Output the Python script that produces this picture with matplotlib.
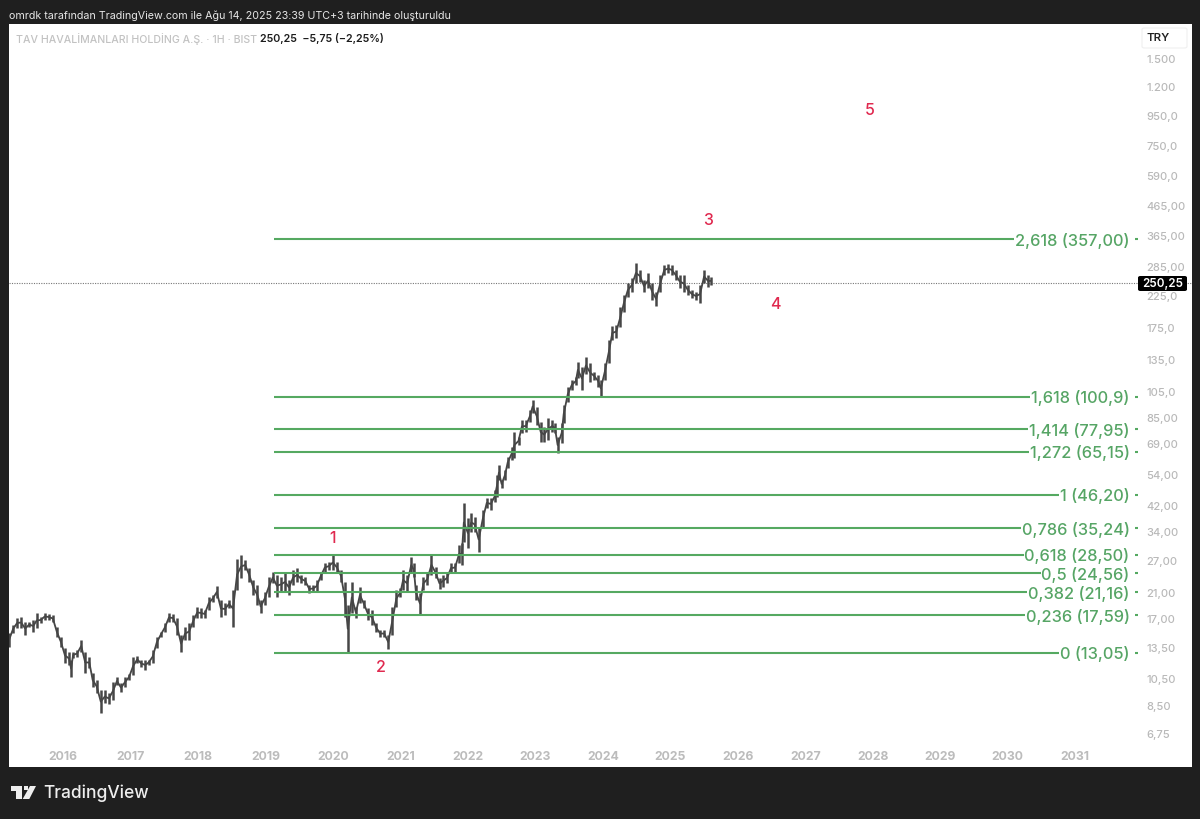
import matplotlib
matplotlib.use("Agg")
import matplotlib.pyplot as plt
from matplotlib.patches import Polygon, FancyBboxPatch
from matplotlib.ticker import NullLocator
from matplotlib.transforms import blended_transform_factory, ScaledTranslation

# ---------- data ----------
bar_years = [2015.20,2015.26,2015.32,2015.38,2015.44,2015.50,2015.56,2015.61,2015.67,2015.73,2015.79,2015.85,2015.91,2015.97,
 2016.03,2016.09,2016.12,2016.15,2016.21,2016.27,2016.33,2016.39,2016.44,2016.50,2016.56,2016.62,2016.68,2016.74,2016.80,2016.86,2016.92,2016.98,
 2017.04,2017.10,2017.16,2017.22,2017.27,2017.33,2017.39,2017.45,2017.51,2017.57,2017.63,2017.69,2017.75,2017.81,2017.87,2017.93,2017.99,
 2018.05,2018.10,2018.16,2018.22,2018.28,2018.34,2018.40,2018.46,2018.52,2018.58,2018.64,2018.70,2018.76,2018.82,2018.88,2018.93,2018.99,
 2019.05,2019.11,2019.17,2019.23,2019.29,2019.35,2019.41,2019.47,2019.53,2019.59,2019.65,2019.71,2019.76,2019.82,2019.88,2019.94,
 2020.00,2020.06,2020.12,2020.18,2020.22,2020.28,2020.34,2020.40,2020.46,2020.52,2020.58,2020.64,2020.70,2020.76,2020.82,2020.88,2020.94,
 2021.00,2021.04,2021.10,2021.16,2021.20,2021.23,2021.29,2021.34,2021.40,2021.46,2021.52,2021.58,2021.63,2021.69,2021.75,2021.81,2021.87,2021.91,2021.94,
 2022.00,2022.05,2022.10,2022.16,2022.22,2022.28,2022.34,2022.40,2022.43,2022.46,2022.50,2022.55,2022.59,2022.65,2022.69,2022.75,2022.80,2022.86,2022.92,2022.96,
 2023.02,2023.08,2023.13,2023.19,2023.25,2023.29,2023.33,2023.39,2023.42,2023.48,2023.54,2023.60,2023.63,2023.69,2023.75,2023.81,2023.87,2023.93,2023.97,
 2024.03,2024.09,2024.14,2024.20,2024.26,2024.31,2024.37,2024.43,2024.49,2024.55,2024.61,2024.67,2024.73,2024.79,2024.85,2024.91,2024.97,
 2025.02,2025.08,2025.14,2025.20,2025.26,2025.32,2025.38,2025.44,2025.50,2025.56,2025.60]

bar_lows = [13.64,15.25,15.88,15.88,15.0,16.0,15.37,15.88,16.53,16.93,16.93,16.66,14.77,13.64,
 12.0,11.81,10.72,12.5,12.6,13.1,11.08,11.53,9.9,9.44,8.04,8.71,8.65,8.92,10.06,9.5,9.9,10.47,
 10.9,12.0,11.63,11.35,11.81,12.0,13.53,14.77,15.37,16.66,16.66,15.0,13.1,14.42,14.42,16.0,17.2,
 17.2,17.2,18.34,19.55,20.2,17.34,17.62,18.63,16.0,21.5,23.7,25.25,23.0,20.7,19.09,17.9,19.09,
 20.4,22.75,20.4,21.2,21.2,20.7,22.4,23.0,22.75,22.4,21.0,21.2,21.2,23.3,24.85,25.25,
 25.25,24.65,23.0,17.34,13.05,17.9,17.2,19.4,18.63,16.93,16.26,15.37,14.77,14.77,13.42,15.0,18.8,
 20.4,21.5,21.2,24.65,23.9,19.87,17.76,21.5,22.4,24.3,23.7,21.7,22.0,22.75,24.65,24.85,26.7,26.3,31.6,
 30.1,34.3,34.3,29.2,35.3,41.5,40.8,43.5,45.3,51.9,48.7,51.9,57.1,60.9,61.9,68.7,75.6,76.2,82.5,88.7,
 80.6,70.3,70.3,71.5,76.2,75.6,64.4,69.8,81.9,97.0,106.7,111.0,117.5,106.7,121.3,113.7,115.6,109.2,101.0,
 115.6,132.4,159.0,161.7,176.6,199.0,224.0,233.6,251.0,253.0,233.6,241.0,219.0,209.0,233.6,267.8,272.0,
 267.8,257.0,241.0,233.6,228.0,222.6,219.0,213.6,251.0,243.0,247.0]

bar_highs = [15.25,16.26,17.2,17.34,16.66,16.66,16.93,17.9,17.34,17.9,17.76,17.62,16.0,14.77,
 13.53,13.1,12.29,13.1,13.31,14.42,13.1,12.6,11.08,10.47,9.66,9.66,9.44,10.3,10.72,10.22,10.72,11.0,
 12.6,12.7,12.29,12.29,12.29,13.31,14.77,15.37,16.53,17.9,17.76,17.2,15.0,16.0,16.53,17.62,18.8,
 18.63,18.34,20.4,20.7,22.2,19.87,19.4,19.87,21.5,27.6,28.5,27.35,25.65,23.3,22.4,19.87,21.2,
 23.9,24.85,24.3,23.9,24.85,23.3,25.25,25.65,24.3,23.9,22.4,22.4,23.3,24.85,26.7,26.9,
 28.5,26.9,25.25,23.0,19.09,23.0,18.8,22.0,19.87,18.63,18.34,16.53,15.62,15.62,15.0,18.8,21.5,
 21.8,25.25,24.3,28.0,26.7,22.4,21.0,23.9,24.65,28.5,25.85,23.7,24.3,24.65,26.7,26.7,30.9,31.4,43.2,
 38.3,39.8,38.6,35.6,40.8,45.0,45.0,47.9,54.0,58.5,51.9,56.2,62.4,67.6,76.2,73.2,83.9,83.9,90.9,98.5,
 93.1,82.5,79.3,85.2,83.9,81.9,73.2,81.9,94.6,109.5,115.6,118.4,133.5,128.3,139.0,132.4,123.3,120.3,115.6,
 132.4,159.0,178.0,179.5,207.0,228.0,251.0,261.4,294.6,278.6,257.0,272.0,251.0,233.6,267.8,290.0,292.0,
 290.0,278.6,267.8,267.8,247.0,237.4,233.6,247.0,278.6,267.8,264.0]

fib_prices = [357.00,100.9,77.95,65.15,46.20,35.24,28.50,24.56,21.16,17.59,13.05]
fib_labels = ["2,618 (357,00)","1,618 (100,9)","1,414 (77,95)","1,272 (65,15)","1 (46,20)",
              "0,786 (35,24)","0,618 (28,50)","0,5 (24,56)","0,382 (21,16)","0,236 (17,59)","0 (13,05)"]

wave_labels = ["1","2","3","4","5"]
wave_years = [2020.00,2020.71,2025.56,2026.55,2027.96]
wave_prices = [32.6,11.6,415.6,210.6,1002.0]

y_ticks = [1500,1200,950,750,590,465,365,285,225,175,135,105,85,69,54,42,34,27,21,17,13.5,10.5,8.5,6.75]
y_tick_labels = ["1.500","1.200","950,0","750,0","590,0","465,00","365,00","285,00","225,0","175,0","135,0","105,0",
                 "85,00","69,00","54,00","42,00","34,00","27,00","21,00","17,00","13,50","10,50","8,50","6,75"]
x_ticks = list(range(2016,2032))
last_price = 250.25
fib_start_year = 2019.13
fib_end_year = 2031.93
label_right_year = 2031.87

# ---------- figure ----------
W, H = 1200, 819
plt.rcParams['font.family'] = ['Inter', 'Liberation Sans', 'DejaVu Sans']
fig = plt.figure(figsize=(W/100, H/100), dpi=100, facecolor='#1f1f1f')

def fx(x): return x / W
def fy(y): return 1 - y / H

L, R, T, B = 9, 1192, 24, 767
ax = fig.add_axes([fx(L), fy(B), (R-L)/W, (B-T)/H], facecolor='white')
ax.set_yscale('log')
ax.set_xlim(2015.20, 2032.73)
ax.set_ylim(5.22, 1995)
for s in ax.spines.values():
    s.set_visible(False)

# price bars
dark = '#464646'
mids = [(l*h)**0.5 for l, h in zip(bar_lows, bar_highs)]
ax.vlines(bar_years, bar_lows, bar_highs, color=dark, lw=1.8, zorder=3)
ax.plot(bar_years, mids, color=dark, lw=1.3, zorder=3)

# last-price line
ax.axhline(last_price, color='#777777', lw=0.8, ls=(0, (1, 1.2)), zorder=2)

# fib levels
green_line = '#55a961'
green_text = '#56a565'
for p, lab in zip(fib_prices, fib_labels):
    ax.hlines(p, fib_start_year, fib_end_year, color=green_line, lw=1.5, zorder=4)
    ax.text(label_right_year, p, lab + " ", ha='right', va='center_baseline', fontsize=11.8, color=green_text,
            fontweight='medium', zorder=5,
            bbox=dict(facecolor='white', edgecolor='none', pad=0.6))

# wave counts
for t, yr, pr in zip(wave_labels, wave_years, wave_prices):
    ax.text(yr, pr, t, ha='center', va='center', fontsize=11.5, fontweight='medium', color='#e0294f', zorder=6)

# axes ticks inside the panel
ax.yaxis.tick_right()
ax.set_yticks(y_ticks)
ax.set_yticklabels(y_tick_labels, fontweight='medium')
ax.yaxis.set_minor_locator(NullLocator())
ax.tick_params(axis='y', which='both', length=0, pad=-33, labelsize=8.0, labelcolor='#b9b9b9')
shift_up = ScaledTranslation(0, 0.3/72, fig.dpi_scale_trans)
for lab in ax.get_yticklabels():
    lab.set_transform(lab.get_transform() + shift_up)
ax.set_xticks(x_ticks)
ax.set_xticklabels([str(v) for v in x_ticks], fontweight='bold')
ax.tick_params(axis='x', length=0, pad=-11.5, labelsize=8.8, labelcolor='#bcbcbc')

# last-price tag
fig.add_artist(FancyBboxPatch((fx(1138), fy(291)), 49/W, 15/H, transform=fig.transFigure,
                              boxstyle='round,pad=0,rounding_size=0.002', fc='black', ec='none', zorder=7))
trans = blended_transform_factory(ax.transAxes, ax.transData)
tag = fig.text(fx(1162.5), fy(283.5), "250,25", ha='center', va='center',
               fontsize=8.4, fontweight='semibold', color='white', zorder=8)

# TRY box
fig.add_artist(FancyBboxPatch((fx(1142), fy(48)), 45/W, 20/H, transform=fig.transFigure,
                              boxstyle='round,pad=0,rounding_size=0.002', fc='white', ec='#efefef', lw=0.8))
fig.text(fx(1158.5), fy(38), "TRY", ha='center', va='center', fontsize=8.2, fontweight='semibold', color='#222222')

# header / title texts
fig.text(fx(9), fy(15.5), "omrdk tarafından TradingView.com ile Ağu 14, 2025 23:39 UTC+3 tarihinde oluşturuldu",
         ha='left', va='center', fontsize=7.7, color='#e6e6e6')
fig.text(fx(16), fy(39), "TAV HAVALİMANLARI HOLDİNG A.Ş. · 1H · BIST", ha='left', va='center',
         fontsize=7.6, fontweight='medium', color='#c2c2c2')
fig.text(fx(260), fy(39), "250,25  −5,75 (−2,25%)", ha='left', va='center', fontsize=7.7,
         fontweight='semibold', color='#1c1c1c')

# footer wordmark
fig.add_artist(Polygon([(fx(10.7),fy(786)),(fx(21.7),fy(786)),(fx(21.7),fy(799)),(fx(16),fy(799)),
                        (fx(16),fy(790.7)),(fx(10.7),fy(790.7))], closed=True, transform=fig.transFigure, fc='#eeeeee', ec='none'))
fig.add_artist(Polygon([(fx(30),fy(786)),(fx(36),fy(786)),(fx(29.3),fy(799)),(fx(22.7),fy(799))],
                       closed=True, transform=fig.transFigure, fc='#eeeeee', ec='none'))
fig.add_artist(Polygon([(fx(23.6),fy(786.3)),(fx(27.8),fy(786.3)),(fx(27.8),fy(790.4)),(fx(23.6),fy(790.4))],
                       closed=True, transform=fig.transFigure, fc='#eeeeee', ec='none'))
fig.text(fx(43), fy(793), "TradingView", ha='left', va='center', fontsize=12.5, fontweight='medium', color='#eeeeee')

fig.savefig('out.png', dpi=100, facecolor=fig.get_facecolor())
